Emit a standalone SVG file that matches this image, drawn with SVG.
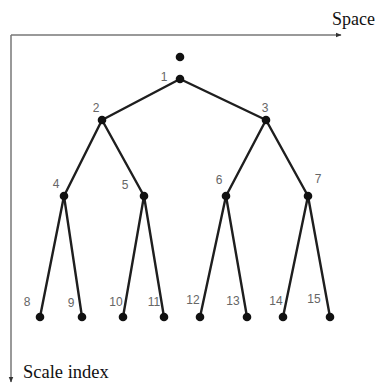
<svg xmlns="http://www.w3.org/2000/svg" width="377" height="383" viewBox="0 0 377 383">
<style>
.edge{stroke:#1e1e1e;stroke-width:2.4;fill:none;stroke-linecap:round}
.dot{fill:#111}
.lbl{font-family:"Liberation Sans",Arial,sans-serif;font-size:12px;fill:#666;text-anchor:middle}
.axis{stroke:#777;stroke-width:1.5;fill:none}
.ax{font-family:"Liberation Serif","Times New Roman",serif;fill:#111}
</style>
<defs>
<marker id="ah" viewBox="0 0 10 10" refX="9" refY="5" markerWidth="6" markerHeight="6" markerUnits="userSpaceOnUse" orient="auto">
<path d="M0,1 L10,5 L0,9 Z" fill="#333"/>
</marker>
</defs>
<g id="axes">
<path class="axis" d="M11,35 L341,35" marker-end="url(#ah)"/>
<path class="axis" d="M11,35 L11,382" marker-end="url(#ah)"/>
<text class="ax" x="332" y="25" font-size="18">Space</text>
<text class="ax" x="23" y="378" font-size="18.5">Scale index</text>
</g>
<g id="connectors">
<line class="edge" x1="180" y1="79" x2="102" y2="120"/>
<line class="edge" x1="180" y1="79" x2="266" y2="120"/>
<line class="edge" x1="102" y1="120" x2="64" y2="196"/>
<line class="edge" x1="102" y1="120" x2="144" y2="196"/>
<line class="edge" x1="266" y1="120" x2="226" y2="196"/>
<line class="edge" x1="266" y1="120" x2="308" y2="196"/>
<line class="edge" x1="64" y1="196" x2="40" y2="317"/>
<line class="edge" x1="64" y1="196" x2="82" y2="317"/>
<line class="edge" x1="144" y1="196" x2="123" y2="317"/>
<line class="edge" x1="144" y1="196" x2="164" y2="317"/>
<line class="edge" x1="226" y1="196" x2="200" y2="317"/>
<line class="edge" x1="226" y1="196" x2="247" y2="317"/>
<line class="edge" x1="308" y1="196" x2="283" y2="317"/>
<line class="edge" x1="308" y1="196" x2="330" y2="317"/>
</g>
<g id="root"><circle class="dot" cx="180" cy="57" r="4.3"/></g>
<g id="n1"><circle class="dot" cx="180" cy="79" r="4.3"/><text class="lbl" x="164" y="81">1</text></g>
<g id="n2"><circle class="dot" cx="102" cy="120" r="4.3"/><text class="lbl" x="96" y="112">2</text></g>
<g id="n3"><circle class="dot" cx="266" cy="120" r="4.3"/><text class="lbl" x="265" y="112">3</text></g>
<g id="n4"><circle class="dot" cx="64" cy="196" r="4.3"/><text class="lbl" x="56" y="188">4</text></g>
<g id="n5"><circle class="dot" cx="144" cy="196" r="4.3"/><text class="lbl" x="125" y="189">5</text></g>
<g id="n6"><circle class="dot" cx="226" cy="196" r="4.3"/><text class="lbl" x="219" y="184">6</text></g>
<g id="n7"><circle class="dot" cx="308" cy="196" r="4.3"/><text class="lbl" x="318" y="183">7</text></g>
<g id="n8"><circle class="dot" cx="40" cy="317" r="4.3"/><text class="lbl" x="27" y="306">8</text></g>
<g id="n9"><circle class="dot" cx="82" cy="317" r="4.3"/><text class="lbl" x="71" y="307">9</text></g>
<g id="n10"><circle class="dot" cx="123" cy="317" r="4.3"/><text class="lbl" x="116" y="306">10</text></g>
<g id="n11"><circle class="dot" cx="164" cy="317" r="4.3"/><text class="lbl" x="154" y="306">11</text></g>
<g id="n12"><circle class="dot" cx="200" cy="317" r="4.3"/><text class="lbl" x="193" y="304">12</text></g>
<g id="n13"><circle class="dot" cx="247" cy="317" r="4.3"/><text class="lbl" x="233" y="305">13</text></g>
<g id="n14"><circle class="dot" cx="283" cy="317" r="4.3"/><text class="lbl" x="276" y="305">14</text></g>
<g id="n15"><circle class="dot" cx="330" cy="317" r="4.3"/><text class="lbl" x="314" y="303">15</text></g>
</svg>
